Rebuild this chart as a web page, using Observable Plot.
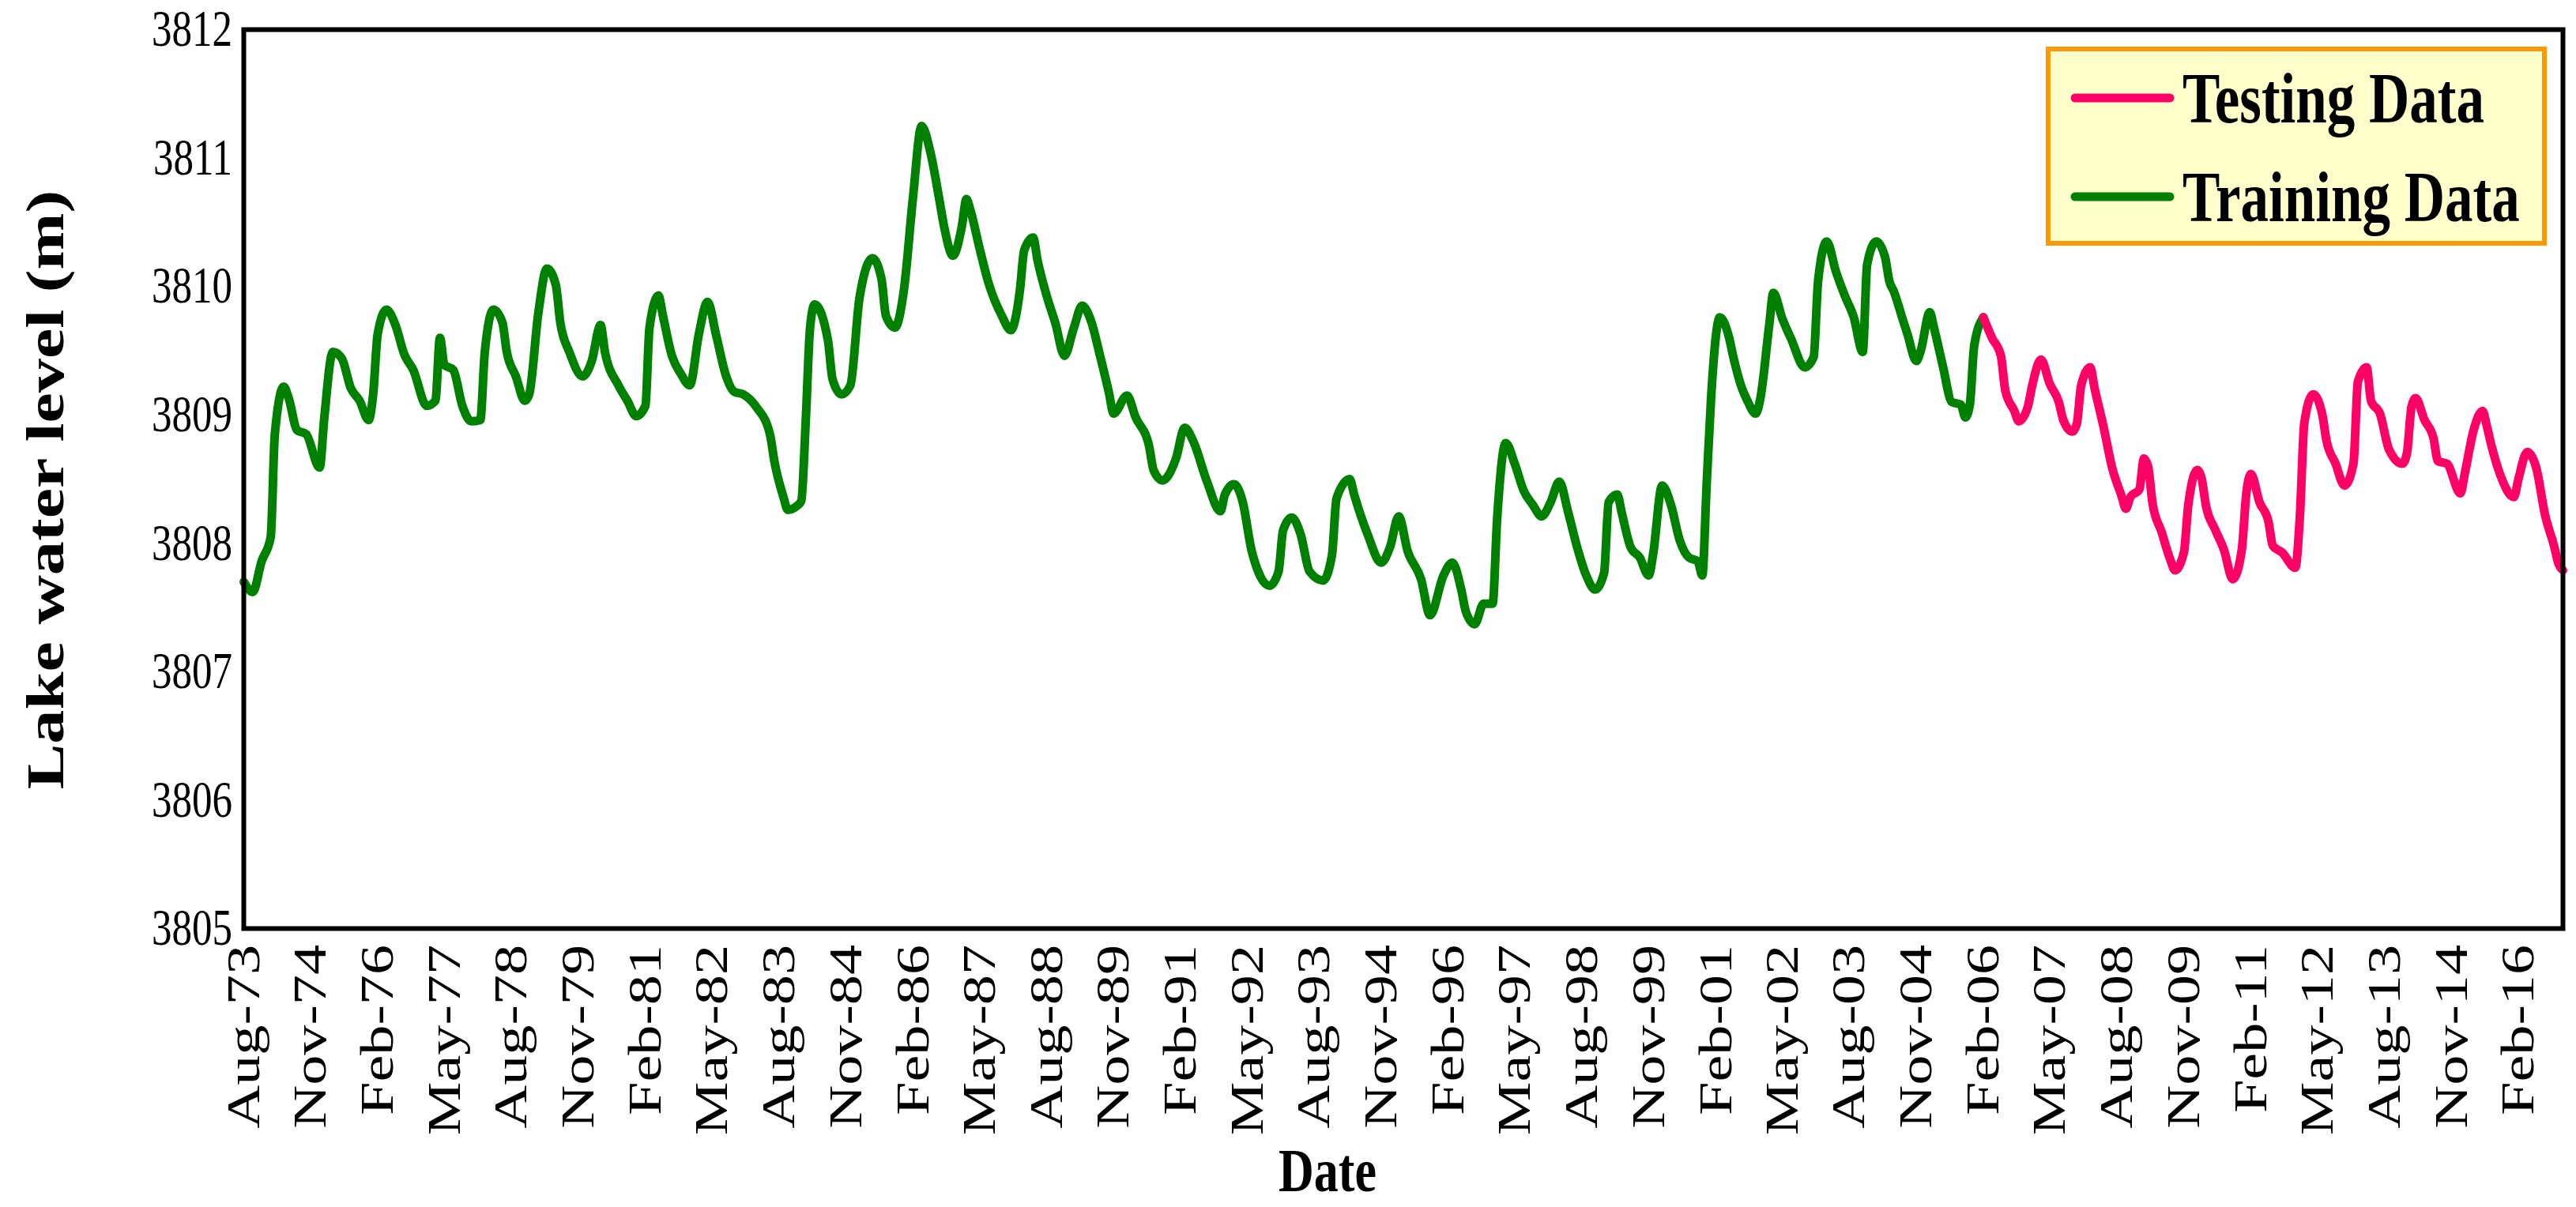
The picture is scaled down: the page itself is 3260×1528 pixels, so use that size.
<!DOCTYPE html>
<html>
<head>
<meta charset="utf-8">
<script src="https://cdn.jsdelivr.net/npm/d3@7"></script>
<script src="https://cdn.jsdelivr.net/npm/@observablehq/plot@0.6"></script>
<style>
  html, body { margin: 0; padding: 0; background: #ffffff; }
  #chart { width: 3260px; height: 1528px; position: absolute; left: 0; top: 0; }
</style>
</head>
<body>
<div id="chart"></div>
<script>
// ---- Data (monthly lake level, m) ----
const trainDates = [
  "1973-08","1973-10","1973-12","1974-02","1974-03","1974-05","1974-06","1974-08","1974-10",
  "1975-01","1975-02","1975-04","1975-06","1975-08","1975-10","1975-12",
  "1976-01","1976-02","1976-04","1976-06","1976-08","1976-10",
  "1977-01","1977-03","1977-04","1977-05","1977-07","1977-09","1977-11",
  "1978-01","1978-02","1978-04","1978-06","1978-07","1978-09","1978-11","1978-12",
  "1979-02","1979-04","1979-06","1979-07","1979-09","1979-12",
  "1980-02","1980-04","1980-05","1980-08","1980-10","1980-12",
  "1981-02","1981-03","1981-05","1981-06","1981-08","1981-10","1981-12",
  "1982-02","1982-04","1982-06","1982-08","1982-10","1982-12",
  "1983-03","1983-06","1983-07","1983-09","1983-10","1983-12",
  "1984-01","1984-02","1984-03","1984-04","1984-07","1984-08","1984-10","1984-12",
  "1985-02","1985-05","1985-07","1985-08","1985-10","1985-12",
  "1986-02","1986-04","1986-06","1986-08","1986-09","1986-11",
  "1987-01","1987-02","1987-03","1987-05","1987-07","1987-10","1987-12",
  "1988-02","1988-03","1988-05","1988-06","1988-08","1988-10","1988-12",
  "1989-02","1989-04","1989-06","1989-08","1989-10","1989-11",
  "1990-02","1990-04","1990-07","1990-08","1990-10",
  "1991-01","1991-03","1991-05","1991-08","1991-11","1991-12",
  "1992-02","1992-04","1992-06","1992-10","1992-12",
  "1993-01","1993-03","1993-05","1993-07","1993-10","1993-12",
  "1994-01","1994-04","1994-05","1994-08","1994-11",
  "1995-01","1995-03","1995-05","1995-08","1995-10",
  "1996-01","1996-03","1996-05","1996-06","1996-08","1996-10","1996-12",
  "1997-01","1997-03","1997-05","1997-07","1997-09","1997-11",
  "1998-01","1998-03","1998-05","1998-07","1998-09","1998-11",
  "1999-01","1999-02","1999-04","1999-05","1999-07","1999-09","1999-11","1999-12",
  "2000-02","2000-04","2000-06","2000-08","2000-10","2000-11","2000-12",
  "2001-01","2001-03","2001-05","2001-06","2001-08","2001-09","2001-11","2001-12",
  "2002-02","2002-03","2002-05","2002-07","2002-10","2002-12",
  "2003-01","2003-03","2003-05","2003-07","2003-09","2003-11","2003-12",
  "2004-02","2004-04","2004-05","2004-06","2004-08","2004-09","2004-11","2004-12",
  "2005-02","2005-03","2005-05","2005-07","2005-09","2005-10","2005-11","2005-12",
  "2006-02"
];
const trainLevels = [
  3807.70,3807.62,3807.86,3808.05,3808.85,3809.22,3809.14,3808.88,3808.85,
  3808.59,3808.97,3809.49,3809.44,3809.21,3809.11,3808.96,
  3809.16,3809.63,3809.82,3809.70,3809.47,3809.35,
  3809.07,3809.11,3809.60,3809.39,3809.35,3809.07,3808.95,
  3808.96,3809.49,3809.82,3809.72,3809.49,3809.30,3809.11,3809.16,
  3809.79,3810.14,3810.01,3809.72,3809.49,3809.30,
  3809.42,3809.70,3809.49,3809.23,3809.11,3808.99,
  3809.07,3809.68,3809.93,3809.77,3809.46,3809.32,3809.23,
  3809.63,3809.88,3809.61,3809.32,3809.18,3809.16,
  3809.06,3808.85,3808.64,3808.36,3808.26,3808.29,
  3808.33,3808.97,3809.68,3809.86,3809.58,3809.28,3809.16,3809.23,
  3809.91,3810.22,3810.06,3809.77,3809.68,3809.97,
  3810.69,3811.25,3811.04,3810.67,3810.47,3810.24,
  3810.47,3810.68,3810.59,3810.30,3810.03,3809.77,3809.66,
  3809.97,3810.28,3810.38,3810.20,3809.93,3809.71,3809.46,
  3809.67,3809.85,3809.73,3809.46,3809.17,3809.01,
  3809.15,3808.98,3808.76,3808.57,3808.49,
  3808.66,3808.90,3808.79,3808.48,3808.25,3808.38,
  3808.46,3808.32,3807.94,3807.67,3807.78,
  3808.10,3808.20,3808.07,3807.78,3807.71,3807.91,
  3808.35,3808.50,3808.38,3808.07,3807.85,
  3807.97,3808.21,3807.94,3807.72,3807.44,
  3807.75,3807.85,3807.64,3807.47,3807.37,3807.53,3807.53,
  3808.19,3808.78,3808.62,3808.41,3808.30,3808.21,
  3808.32,3808.48,3808.24,3807.97,3807.75,3807.64,
  3807.77,3808.32,3808.38,3808.24,3807.97,3807.89,3807.75,3807.91,
  3808.45,3808.30,3808.02,3807.89,3807.86,3807.75,3808.46,
  3809.15,3809.76,3809.61,3809.45,3809.20,3809.12,3809.01,3809.12,
  3809.70,3809.95,3809.75,3809.59,3809.37,3809.45,
  3810.05,3810.35,3810.12,3809.93,3809.76,3809.49,3810.17,
  3810.35,3810.23,3810.04,3809.96,3809.74,3809.63,3809.42,3809.50,
  3809.80,3809.68,3809.38,3809.10,3809.08,3808.98,3809.08,3809.54,
  3809.76
];
const testDates = [
  "2006-02","2006-04","2006-06","2006-07","2006-09","2006-10","2006-12",
  "2007-01","2007-03","2007-05","2007-07","2007-08","2007-10","2007-11","2007-12",
  "2008-02","2008-03","2008-05","2008-07","2008-09","2008-10","2008-11",
  "2009-01","2009-02","2009-03","2009-04","2009-06","2009-08","2009-09","2009-11","2009-12",
  "2010-02","2010-03","2010-04","2010-06","2010-08","2010-10","2010-12",
  "2011-01","2011-02","2011-04","2011-06","2011-07","2011-09","2011-12",
  "2012-01","2012-02","2012-04","2012-06","2012-07","2012-09","2012-11",
  "2013-01","2013-02","2013-04","2013-05","2013-07","2013-09","2013-12",
  "2014-01","2014-02","2014-03","2014-05","2014-07","2014-08","2014-10",
  "2015-01","2015-02","2015-04","2015-06","2015-07","2015-08","2015-10",
  "2016-01","2016-02","2016-04","2016-06","2016-08","2016-10","2016-11","2016-12"
];
const testLevels = [
  3809.76,3809.60,3809.46,3809.19,3809.03,3808.95,3809.06,
  3809.23,3809.43,3809.24,3809.10,3808.96,3808.87,3808.93,3809.23,
  3809.37,3809.21,3808.91,3808.58,3808.37,3808.27,3808.36,
  3808.42,3808.66,3808.60,3808.31,3808.09,3807.87,3807.79,3807.93,3808.30,
  3808.57,3808.51,3808.29,3808.11,3807.95,3807.72,3807.95,
  3808.39,3808.54,3808.32,3808.17,3807.98,3807.93,3807.81,
  3808.20,3808.94,3809.16,3809.01,3808.80,3808.62,3808.45,
  3808.62,3809.26,3809.37,3809.11,3809.01,3808.73,3808.62,
  3808.70,3809.06,3809.13,3808.96,3808.82,3808.64,3808.62,
  3808.39,3808.55,3808.88,3809.03,3808.91,3808.76,3808.53,
  3808.36,3808.50,3808.71,3808.59,3808.22,3807.98,3807.84,3807.79
];
const xTickLabels = [
  "Aug-73","Nov-74","Feb-76","May-77","Aug-78","Nov-79","Feb-81","May-82","Aug-83",
  "Nov-84","Feb-86","May-87","Aug-88","Nov-89","Feb-91","May-92","Aug-93","Nov-94",
  "Feb-96","May-97","Aug-98","Nov-99","Feb-01","May-02","Aug-03","Nov-04","Feb-06",
  "May-07","Aug-08","Nov-09","Feb-11","May-12","Aug-13","Nov-14","Feb-16"
];
const yTicks = [3805, 3806, 3807, 3808, 3809, 3810, 3811, 3812];
const seriesNames = ["Testing Data", "Training Data"];
const seriesColors = ["#FF0066", "#008000"];

// ---- helpers ----
const parseYM = s => { const [y, m] = s.split("-").map(Number); return new Date(Date.UTC(y, m - 1, 1)); };
const monthIdx = {Jan:0,Feb:1,Mar:2,Apr:3,May:4,Jun:5,Jul:6,Aug:7,Sep:8,Oct:9,Nov:10,Dec:11};
const parseLabel = s => { const [mo, yy] = s.split("-"); const y = +yy < 50 ? 2000 + +yy : 1900 + +yy; return new Date(Date.UTC(y, monthIdx[mo], 1)); };

const train = trainDates.map((d, i) => ({date: parseYM(d), level: trainLevels[i]}));
const test = testDates.map((d, i) => ({date: parseYM(d), level: testLevels[i]}));
const xTicks = xTickLabels.map(parseLabel);
const labelFor = d => { const i = xTicks.findIndex(t => +t === +d); return i >= 0 ? xTickLabels[i] : ""; };

const FONT = "'Liberation Serif', 'Times New Roman', serif";
const STRETCH = 1.27; // the reference text is taller than it is wide

const chart = Plot.plot({
  width: 3260,
  height: 1528,
  marginLeft: 308,
  marginRight: 17,
  marginTop: 37,
  marginBottom: 353,
  style: {fontFamily: FONT, fontSize: "50px", color: "#000", background: "#fff", overflow: "visible"},
  x: {type: "utc", domain: [train[0].date, test[test.length - 1].date]},
  y: {domain: [3805, 3812]},
  marks: [
    Plot.line(train, {x: "date", y: "level", stroke: seriesColors[1], strokeWidth: 11, curve: "monotone-x", strokeLinejoin: "round", strokeLinecap: "round"}),
    Plot.line(test, {x: "date", y: "level", stroke: seriesColors[0], strokeWidth: 11, curve: "monotone-x", strokeLinejoin: "round", strokeLinecap: "round"}),
    Plot.frame({stroke: "#000", strokeWidth: 6}),
    Plot.axisX({ticks: xTicks, tickFormat: labelFor, tickRotate: -90, tickSize: 0, tickPadding: 20, fontSize: 60, label: null}),
    Plot.axisY({ticks: yTicks, tickFormat: d => String(d), tickSize: 0, tickPadding: 14, fontSize: 51, label: null})
  ]
});
document.getElementById("chart").appendChild(chart);

const svg = d3.select(chart);
// stretch the tick labels vertically (on screen), like the reference, then align them
svg.selectAll('g[aria-label="x-axis tick label"] text').each(function () {
  const base = this.getAttribute("transform") || "";
  this.setAttribute("transform", base + ` scale(${STRETCH},1)`);
  const top = this.getBoundingClientRect().top;
  this.setAttribute("transform", `translate(0,${1196 - top}) ` + base + ` scale(${STRETCH},1)`);
});
svg.selectAll('g[aria-label="y-axis tick label"] text').each(function () {
  const base = this.getAttribute("transform") || "";
  this.setAttribute("transform", base + ` scale(1,${STRETCH})`);
  const r = this.getBoundingClientRect();
  this.setAttribute("transform", `translate(${294 - r.right},0) ` + base + ` scale(1,${STRETCH})`);
});

// ---- axis titles ----
svg.append("text")
  .attr("transform", `translate(56,620) rotate(-90) scale(${STRETCH},1)`)
  .attr("text-anchor", "middle").attr("dy", "0.35em")
  .style("font-family", FONT).style("font-weight", "bold").style("font-size", "68px")
  .attr("fill", "#000")
  .text("Lake water level (m)");
svg.append("text")
  .attr("transform", `translate(1680,1508) scale(1,${STRETCH})`)
  .attr("text-anchor", "middle")
  .style("font-family", FONT).style("font-weight", "bold").style("font-size", "62px")
  .attr("fill", "#000")
  .text("Date");

// ---- legend ----
const lg = svg.append("g");
lg.append("rect").attr("x", 2592).attr("y", 62).attr("width", 628).attr("height", 246)
  .attr("fill", "#FFFFCC").attr("stroke", "#FF9900").attr("stroke-width", 6);
seriesNames.forEach((name, i) => {
  const cy = 124 + i * 125;
  lg.append("line").attr("x1", 2626).attr("x2", 2746).attr("y1", cy).attr("y2", cy)
    .attr("stroke", seriesColors[i]).attr("stroke-width", 11).attr("stroke-linecap", "round");
  lg.append("text")
    .attr("transform", `translate(2762,${cy + 31}) scale(1,${STRETCH})`)
    .attr("text-anchor", "start")
    .style("font-family", FONT).style("font-weight", "bold").style("font-size", "71px")
    .attr("fill", "#000").text(name);
});
</script>
</body>
</html>
